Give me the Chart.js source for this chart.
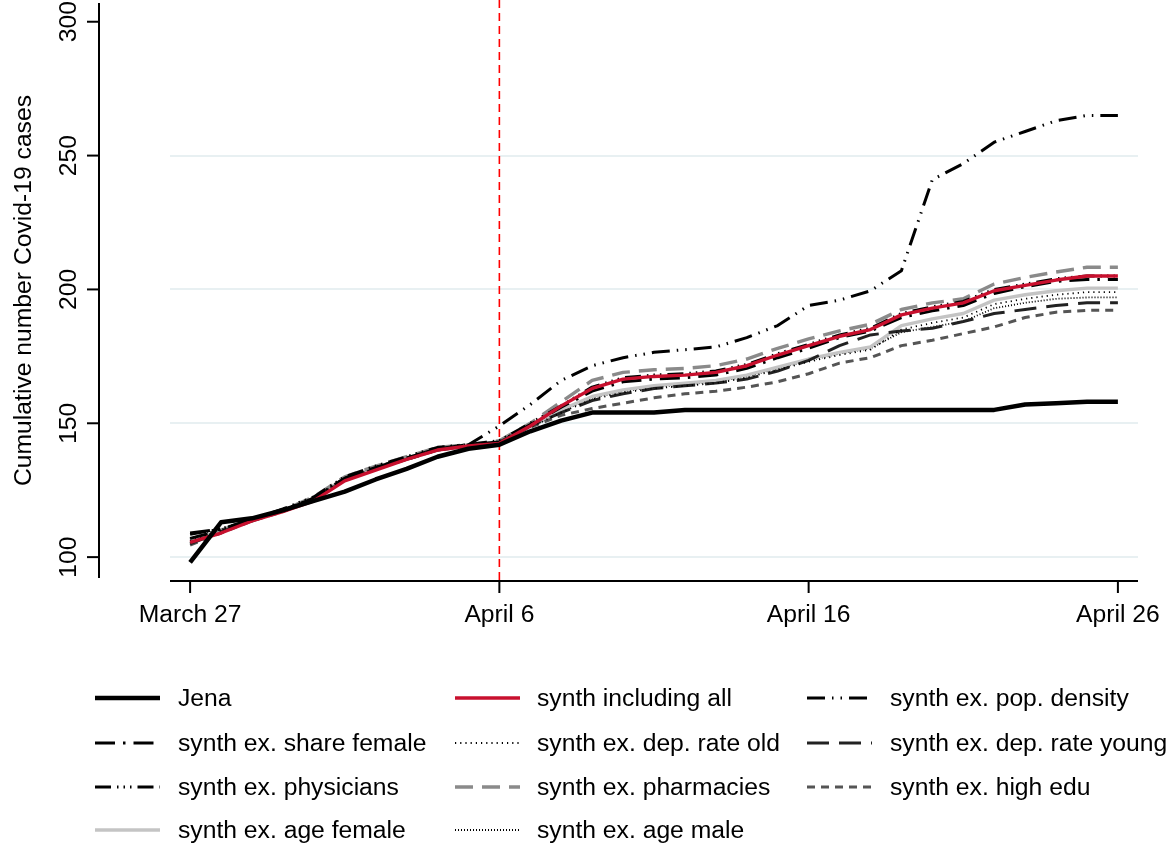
<!DOCTYPE html>
<html><head><meta charset="utf-8">
<script src="https://cdn.jsdelivr.net/npm/chart.js@4/dist/chart.umd.min.js"></script>
<style>
html,body{margin:0;padding:0;background:#fff;}
#wrap{position:relative;width:1170px;height:846px;overflow:hidden;}
#c{position:absolute;left:0;top:0;}
#legend{position:absolute;left:0;top:0;width:1170px;height:846px;pointer-events:none;font-family:"Liberation Sans",Arial,sans-serif;font-size:24.7px;color:#000;}
.sample{position:absolute;}
.txt{position:absolute;white-space:nowrap;line-height:30px;height:30px;}
</style></head><body>
<div id="wrap"><canvas id="c" width="1170" height="846"></canvas><div id="legend"></div></div>
<script>
const categories = ["March 27","March 28","March 29","March 30","March 31","April 1","April 2","April 3","April 4","April 5","April 6","April 7","April 8","April 9","April 10","April 11","April 12","April 13","April 14","April 15","April 16","April 17","April 18","April 19","April 20","April 21","April 22","April 23","April 24","April 25","April 26"];
const xTickLabels = ["March 27","April 6","April 16","April 26"];
const yTicks = [100,150,200,250,300];
const interventionDate = "April 6";

const jena          = [98,113,114.5,117.5,121,124.5,129,133,137.5,140.5,142,147,151,154,154,154,155,155,155,155,155,155,155,155,155,155,155,157,157.5,158,158];
const synthAll      = [105.5,109,113.5,117,121,128.5,132.5,136.5,140,141.5,142.5,149,156.5,163,166.5,167.5,168,169,171.5,175.5,179,182.5,185,190.5,193,195,199.5,201.5,203.5,205,205];
const exPopDensity  = [107,110,114,117.5,122,129.5,133.5,137,140.5,142,149,157,166,171.5,174.5,176.5,177.5,178.5,182,186.5,194,196,199.5,207,241,247,255,259,263,265,265];
const exShareFemale = [109,110.5,114,117.5,122,129.5,133.5,137,140.5,142,143,149.5,156,162,165.5,166.5,167,168,170.5,174.5,178,182,184.5,189.5,192,194,198.5,201,203,203.7,203.7];
const exDepRateOld  = [106,110,114,117.5,122,129.5,133,137,140.5,141.5,143,148.5,154,159,161.5,163,164,165,167,170,173,175.5,177.5,185,187.5,189.5,194.5,196.5,198,199,199];
const exDepRateYoung= [105,109.5,113.5,117.5,121.5,129,133,136.5,140,141.5,143,149,154,158.5,161,163,164,165,166.5,169.5,173.5,179,183,184.5,185.5,188,191,192.5,194,195,195];
const exPhysicians  = [108.5,110.5,114,118,122.5,130,134,137.5,141,142,143.5,150,156.5,163.5,167,168,168.5,169.5,172,176,179.5,183,185.5,191,193.5,195.5,200,202,204,205,205];
const exPharmacies  = [106.5,110,114,117.5,122.5,130,134,137.5,141,142,143.5,150,158,166,169,170,170.5,171.5,174,178,181.5,184.5,187,192.5,195,196.5,202,204.5,206.5,208.3,208.3];
const exHighEdu     = [104.5,109,113.5,117,121.5,129,133,136.5,140,141.5,143,148.5,153,155.5,157.5,159.5,161,162,163.5,165.5,168.5,172.5,174.5,179,181,183.5,186,189.5,191.5,192.2,192.2];
const exAgeFemale   = [106,110,114,117.5,122,129.5,133.5,137,140.5,142,143,149,155,160,162.5,164,165,166,168,171,174,176.5,178.5,186.5,189,191,196,198,199.5,200.5,200.5];
const exAgeMale     = [107,110.5,114,117.5,122,129.5,133.5,137,140.5,142,143,148.5,154.5,159.5,162,163.5,164.5,165.5,167.5,170.5,173.5,176,178,184,186,188,193,195,196.5,197,197];

const FONT = {family:'"Liberation Sans", Arial, sans-serif', size:24.7};
const toXY = arr => arr.map((v,i)=>({x:i, y:v}));

const series = [
  {label:'Jena', data:jena, color:'#000000', width:4.5, dash:[]},
  {label:'synth including all', data:synthAll, color:'#c8102e', width:3.4, dash:[]},
  {label:'synth ex. pop. density', data:exPopDensity, color:'#000000', width:3, dash:[18,7,1.5,7,1.5,7]},
  {label:'synth ex. share female', data:exShareFemale, color:'#000000', width:3, dash:[20,8,2.5,8]},
  {label:'synth ex. dep. rate old', data:exDepRateOld, color:'#000000', width:1.8, dash:[1.2,4]},
  {label:'synth ex. dep. rate young', data:exDepRateYoung, color:'#222222', width:3, dash:[22,10]},
  {label:'synth ex. physicians', data:exPhysicians, color:'#000000', width:3, dash:[16,6,1.5,5,1.5,5,1.5,6]},
  {label:'synth ex. pharmacies', data:exPharmacies, color:'#8a8a8a', width:3.4, dash:[18,9]},
  {label:'synth ex. high edu', data:exHighEdu, color:'#555555', width:3, dash:[8,6]},
  {label:'synth ex. age female', data:exAgeFemale, color:'#c4c4c4', width:3.4, dash:[]},
  {label:'synth ex. age male', data:exAgeMale, color:'#000000', width:1.8, dash:[1,2]}
];

const axesPlugin = {
  id:'stataAxes',
  beforeDatasetsDraw(chart){
    const ctx = chart.ctx, xs = chart.scales.x, ca = chart.chartArea;
    const xv = xs.getPixelForValue(categories.indexOf(interventionDate));
    ctx.save();
    ctx.strokeStyle = '#ff0000'; ctx.lineWidth = 1.6; ctx.setLineDash([8,5]);
    ctx.beginPath(); ctx.moveTo(xv, 0); ctx.lineTo(xv, ca.bottom + 3); ctx.stroke();
    ctx.restore();
  },
  afterDraw(chart){
    const ctx = chart.ctx, xs = chart.scales.x, ys = chart.scales.y, ca = chart.chartArea;
    ctx.save();
    ctx.strokeStyle = '#000'; ctx.lineWidth = 2; ctx.setLineDash([]);
    const yAxisX = 99;
    ctx.beginPath(); ctx.moveTo(yAxisX, ca.top); ctx.lineTo(yAxisX, ca.bottom); ctx.stroke();
    ys.ticks.forEach(t=>{ const y = ys.getPixelForValue(t.value); ctx.beginPath(); ctx.moveTo(yAxisX-12, y); ctx.lineTo(yAxisX, y); ctx.stroke(); });
    const xAxisY = ca.bottom + 3;
    ctx.beginPath(); ctx.moveTo(ca.left, xAxisY); ctx.lineTo(ca.right, xAxisY); ctx.stroke();
    xs.ticks.forEach(t=>{ const x = xs.getPixelForValue(t.value); ctx.beginPath(); ctx.moveTo(x, xAxisY); ctx.lineTo(x, xAxisY+12); ctx.stroke(); });
    ctx.restore();
  }
};

new Chart(document.getElementById('c'), {
  type:'line',
  data:{ datasets: series.map(s=>({label:s.label, data:toXY(s.data), borderColor:s.color, backgroundColor:s.color, borderWidth:s.width, borderDash:s.dash, fill:false})) },
  options:{
    responsive:false, animation:false, devicePixelRatio:1,
    layout:{padding:{left:0,right:32,top:3,bottom:0}},
    plugins:{legend:{display:false}, tooltip:{enabled:false}},
    elements:{point:{radius:0}, line:{tension:0, borderJoinStyle:'round', borderCapStyle:'butt'}},
    scales:{
      x:{type:'linear', min:-0.65, max:30.65,
        afterBuildTicks: s=>{ s.ticks = xTickLabels.map(l=>({value:categories.indexOf(l)})); },
        afterFit: s=>{ s.height = 846 - 578; s.paddingLeft = 0; s.paddingRight = 0; },
        ticks:{autoSkip:false, maxRotation:0, minRotation:0, padding:22, font:FONT, color:'#000', callback:(v)=>categories[v]},
        grid:{display:false, drawTicks:false}, border:{display:false}},
      y:{min:92.2, max:307,
        afterBuildTicks: s=>{ s.ticks = yTicks.map(v=>({value:v})); },
        afterFit: s=>{ s.width = 170; s.paddingTop = 0; s.paddingBottom = 0; },
        ticks:{minRotation:90, maxRotation:90, crossAlign:'center', padding:80, font:FONT, color:'#000'},
        grid:{color: c=> (c.tick && c.tick.value===300) ? 'rgba(0,0,0,0)' : '#e8f0f2', lineWidth:2, drawTicks:false},
        border:{display:false},
        title:{display:true, text:'Cumulative number Covid-19 cases', font:FONT, color:'#000', padding:{top:9,bottom:0}}}
    }
  },
  plugins:[axesPlugin]
});

// legend (3 columns)
const legend = document.getElementById('legend');
const colSample = [95,455,807], colText = [178,537,890], rowY = [698,743,787,830];
series.forEach((s,i)=>{
  const r = Math.floor(i/3), c = i%3;
  const svgNS='http://www.w3.org/2000/svg';
  const svg = document.createElementNS(svgNS,'svg');
  svg.setAttribute('class','sample'); svg.setAttribute('width','65'); svg.setAttribute('height','10');
  svg.style.left = colSample[c]+'px'; svg.style.top = (rowY[r]-5)+'px';
  const ln = document.createElementNS(svgNS,'line');
  ln.setAttribute('x1','0'); ln.setAttribute('x2','65'); ln.setAttribute('y1','5'); ln.setAttribute('y2','5');
  ln.setAttribute('stroke', s.color); ln.setAttribute('stroke-width', s.width);
  if (s.dash.length) ln.setAttribute('stroke-dasharray', s.dash.join(' '));
  svg.appendChild(ln); legend.appendChild(svg);
  const t = document.createElement('div'); t.className='txt'; t.textContent = s.label;
  t.style.left = colText[c]+'px'; t.style.top = (rowY[r]-15)+'px';
  legend.appendChild(t);
});
</script>
</body></html>
